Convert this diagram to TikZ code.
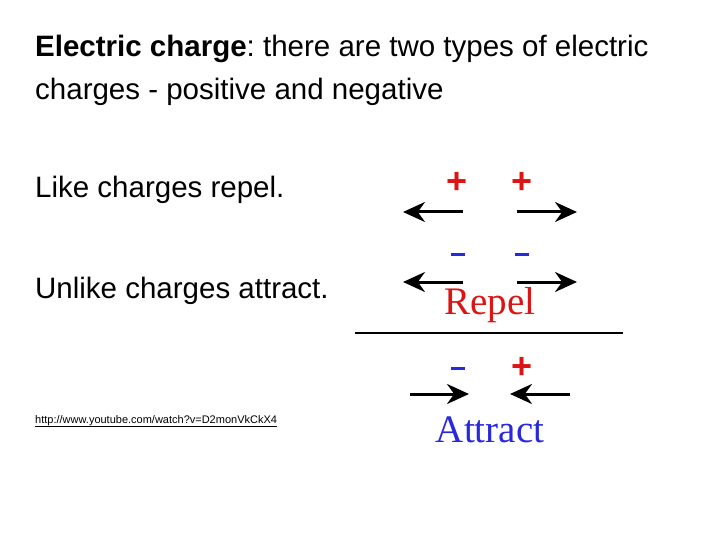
\documentclass[tikz,border=0pt]{standalone}
\usepackage{fontspec}
\setmainfont{Liberation Sans}
\newfontfamily\serifx{Liberation Serif}
\usetikzlibrary{arrows.meta}
\definecolor{cred}{RGB}{220,20,20}
\definecolor{cblue}{RGB}{40,40,220}
\frenchspacing
\begin{document}
\begin{tikzpicture}[x=1pt,y=-1pt,
  txt/.style={anchor=base west,inner sep=0pt,font=\fontsize{29.5}{32}\selectfont},
  arr/.style={line width=3pt,-{Stealth[length=22pt,width=20pt]}},
  sgn/.style={font=\fontsize{36}{36}\selectfont\bfseries,inner sep=0pt}]
\useasboundingbox (0,0) rectangle (720,540);
\node[txt] (t1) at (35,57) {\textbf{Electric charge}: there are two types of electric};
\node[txt] (t2) at (35,100) {charges - positive and negative};
\node[txt] (t3) at (35,198) {Like charges repel.};
\node[txt] (t4) at (35,298) {Unlike charges attract.};
\node[anchor=base west,inner sep=0pt,font=\fontsize{11}{12}\selectfont] (url) at (35,423) {\underline{http://www.youtube.com/watch?v=D2monVkCkX4}};
\node[sgn,text=cred] (p1) at (457,183) {+};
\node[sgn,text=cred] (p2) at (522,183) {+};
\node[sgn,text=cblue] (m1) at (458,254) {\rule{14pt}{3pt}};
\node[sgn,text=cblue] (m2) at (522,254) {\rule{14pt}{3pt}};
\node[inner sep=0pt,text=cred,font=\serifx\fontsize{39}{39}\selectfont] (rep) at (490,305) {Repel};
\node[sgn,text=cblue] (m3) at (458,368) {\rule{14pt}{3pt}};
\node[sgn,text=cred] (p3) at (522,368) {+};
\node[inner sep=0pt,text=cblue,font=\serifx\fontsize{39}{39}\selectfont] (att) at (490,430) {Attract};
\coordinate (a1s) at (463,212); \coordinate (a1e) at (403,212);
\coordinate (a2s) at (517,212); \coordinate (a2e) at (577,212);
\coordinate (a3s) at (463,282); \coordinate (a3e) at (403,282);
\coordinate (a4s) at (517,282); \coordinate (a4e) at (577,282);
\coordinate (a5s) at (410,394); \coordinate (a5e) at (469,394);
\coordinate (a6s) at (570,394); \coordinate (a6e) at (510,394);
\draw[arr] (a1s) -- (a1e); \draw[arr] (a2s) -- (a2e);
\draw[arr] (a3s) -- (a3e); \draw[arr] (a4s) -- (a4e);
\draw[arr] (a5s) -- (a5e); \draw[arr] (a6s) -- (a6e);
\coordinate (l1) at (355,333); \coordinate (l2) at (623,333);
\draw[line width=2pt] (l1) -- (l2);
\end{tikzpicture}
\end{document}
